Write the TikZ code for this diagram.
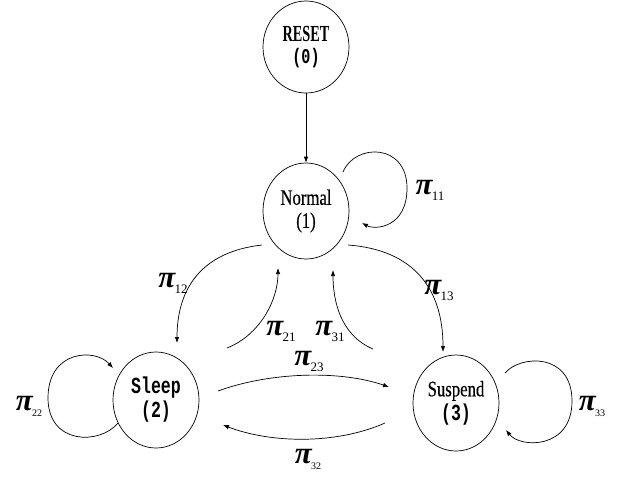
\documentclass[tikz,border=0pt]{standalone}
\usepackage{fontspec}
\usetikzlibrary{arrows.meta,shapes.geometric,calc}
\setmainfont{Liberation Serif}
\newfontfamily\statefont[FakeStretch=0.76,FakeBold=0.4]{Liberation Serif}
\newfontfamily\resetfont[FakeStretch=0.62]{Liberation Serif}
\newfontfamily\monofont[FakeStretch=0.72]{Liberation Mono}
% transition probability label: big italic pi with a lowered index
\newcommand\pilab[2][13]{{\fontsize{31}{31}\selectfont\bfseries\itshape π}\kern-0.5pt\raisebox{-6pt}{\fontsize{#1}{#1}\selectfont #2}}
\begin{document}
\begin{tikzpicture}[x=1pt,y=-1pt,
  state/.style={draw,ellipse,line width=0.7pt,minimum width=86pt,minimum height=96pt,inner sep=0pt,align=center},
  trans/.style={line width=0.7pt,-{Latex[length=6pt,width=4.5pt]}},
  plab/.style={inner sep=0pt,anchor=center}]
\useasboundingbox (0,0) rectangle (621,477);

% states
\node[state,minimum height=92pt,font=\resetfont\bfseries\fontsize{23}{22}\selectfont] (reset) at (306,47)
  {RESET\\{\monofont\bfseries\fontsize{21}{22}\selectfont (0)}};
\node[state,font=\statefont\fontsize{22}{23}\selectfont] (norm) at (306,211)
  {Normal\\(1)};
\node[state,font=\monofont\bfseries\fontsize{23}{24}\selectfont] (sleep) at (156,400)
  {Sleep\\(2)};
\node[state,font=\statefont\fontsize{22}{24}\selectfont] (susp) at (456,403)
  {Suspend\\{\monofont\bfseries\fontsize{23}{24}\selectfont (3)}};

% start point of the chain
\draw[trans] (reset) -- (norm);

% end points of the transitions between states
\coordinate (s12) at ($(norm)+(-44,34)$);
\coordinate (e12) at ($(sleep)+(21,-57)$);
\coordinate (s21) at ($(sleep)+(71,-52)$);
\coordinate (e21) at ($(norm)+(-28,57)$);
\coordinate (s31) at ($(susp)+(-83,-54)$);
\coordinate (e31) at ($(norm)+(27,59)$);
\coordinate (s13) at ($(norm)+(42,34)$);
\coordinate (e13) at ($(susp)+(-13,-51)$);
\coordinate (s23) at ($(sleep)+(62,-9)$);
\coordinate (e23) at ($(susp)+(-67,-16)$);
\coordinate (s32) at ($(susp)+(-71,20)$);
\coordinate (e32) at ($(sleep)+(67,25)$);

\draw[trans] (s12) .. controls +(-62,7) and +(0,-53) .. (e12);
\draw[trans] (s21) .. controls +(33,-13) and +(0,32) .. (e21);
\draw[trans] (s31) .. controls +(-33,-14) and +(0,30) .. (e31);
\draw[trans] (s13) .. controls +(67,5) and +(0,-62) .. (e13);
\draw[trans] (s23) .. controls +(52,-19) and +(-49,-17) .. (e23);
\draw[trans] (s32) .. controls +(-50,22) and +(47,18) .. (e32);

% self loops
\coordinate (s11) at ($(norm)+(37,-39)$);
\coordinate (m11) at ($(norm)+(101,-23)$);
\coordinate (e11) at ($(norm)+(56,12)$);
\draw[trans] (s11) .. controls +(12,-29) and +(0,-45) .. (m11)
  .. controls +(0,40) and +(13,7) .. (e11);

\coordinate (s22) at ($(sleep)+(-38,23)$);
\coordinate (m22) at ($(sleep)+(-108,-2)$);
\coordinate (e22) at ($(sleep)+(-43,-32)$);
\draw[trans] (s22) .. controls +(-18,22) and +(0,47) .. (m22)
  .. controls +(0,-48) and +(-18,-20) .. (e22);

\coordinate (s33) at ($(susp)+(49,-30)$);
\coordinate (m33) at ($(susp)+(116,-2)$);
\coordinate (e33) at ($(susp)+(50,27)$);
\draw[trans] (s33) .. controls +(15,-18) and +(0,-49) .. (m33)
  .. controls +(0,49) and +(14,18) .. (e33);

% transition labels
\node[plab] (p11) at (430,190) {\pilab{11}};
\node[plab] (p12) at (173,283) {\pilab{12}};
\node[plab] (p13) at (439,290) {\pilab{13}};
\node[plab] (p21) at (281,331) {\pilab{21}};
\node[plab] (p31) at (330,331) {\pilab{31}};
\node[plab] (p22) at (29,406) {\pilab[10]{22}};
\node[plab] (p33) at (592,406) {\pilab[10]{33}};
\node[plab] (p23) at (309,361) {\pilab{23}};
\node[plab] (p32) at (308,459) {\pilab[10]{32}};
\end{tikzpicture}
\end{document}
